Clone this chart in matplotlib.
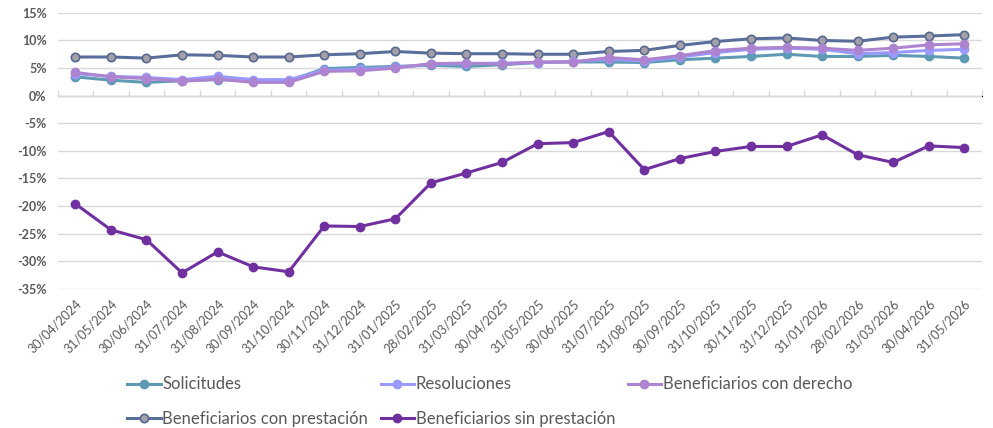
import numpy as np
import matplotlib
matplotlib.use("Agg")
import matplotlib.pyplot as plt
from matplotlib.ticker import FuncFormatter

# Fechas (fin de mes) y variaciones interanuales en %
fechas = ["30/04/2024", "31/05/2024", "30/06/2024", "31/07/2024", "31/08/2024", "30/09/2024",
          "31/10/2024", "30/11/2024", "31/12/2024", "31/01/2025", "28/02/2025", "31/03/2025",
          "30/04/2025", "31/05/2025", "30/06/2025", "31/07/2025", "31/08/2025", "30/09/2025",
          "31/10/2025", "30/11/2025", "31/12/2025", "31/01/2026", "28/02/2026", "31/03/2026",
          "30/04/2026", "31/05/2026"]

solicitudes = [3.4, 2.8, 2.4, 2.7, 2.9, 2.7, 2.7, 4.9, 5.1, 5.3, 5.5, 5.3,
               5.6, 6.0, 6.1, 6.1, 6.0, 6.5, 6.8, 7.1, 7.5, 7.1, 7.1, 7.3, 7.1, 6.8]
resoluciones = [4.0, 3.5, 3.3, 2.9, 3.5, 2.9, 2.9, 4.6, 4.8, 5.1, 5.7, 5.8,
                5.9, 6.0, 6.2, 6.6, 6.3, 7.0, 7.8, 8.4, 8.6, 8.4, 7.6, 7.8, 8.2, 8.4]
con_derecho = [4.2, 3.4, 3.1, 2.6, 3.0, 2.4, 2.4, 4.4, 4.5, 5.0, 5.8, 5.9,
               5.7, 6.1, 6.1, 6.9, 6.5, 7.25, 8.15, 8.6, 8.75, 8.6, 8.2, 8.6, 9.2, 9.4]
con_prestacion = [7.0, 7.0, 6.8, 7.4, 7.3, 7.0, 7.0, 7.4, 7.6, 8.0, 7.7, 7.6,
                  7.6, 7.5, 7.5, 8.0, 8.2, 9.1, 9.8, 10.3, 10.45, 10.0, 9.85, 10.6, 10.8, 11.05]
sin_prestacion = [-19.6, -24.3, -26.1, -32.1, -28.3, -31.0, -31.9, -23.6, -23.7, -22.3, -15.8, -14.0,
                  -12.1, -8.7, -8.5, -6.5, -13.4, -11.4, -10.1, -9.2, -9.2, -7.1, -10.7, -12.1, -9.1, -9.4]

plt.rcParams["font.family"] = ["Lato", "DejaVu Sans"]
gris = "#595959"

fig = plt.figure(figsize=(9.93, 4.28), dpi=100)
ax = fig.add_axes([0.058, 0.325, 0.931, 0.645])
x = np.arange(len(fechas))

lw, ms = 2.2, 6
l_sin, = ax.plot(x, sin_prestacion, color="#7030a0", lw=lw, marker="o", ms=ms, label="Beneficiarios sin prestación", zorder=3)
l_con, = ax.plot(x, con_prestacion, color="#5a6e9c", lw=lw, marker="o", ms=ms, mfc="#a5a0a8", mec="#56698f",
                 mew=1.2, label="Beneficiarios con prestación", zorder=3)
l_sol, = ax.plot(x, solicitudes, color="#5f9ab4", lw=lw, marker="o", ms=ms, label="Solicitudes", zorder=4)
l_res, = ax.plot(x, resoluciones, color="#9999ff", lw=lw, marker="o", ms=ms, label="Resoluciones", zorder=5)
l_der, = ax.plot(x, con_derecho, color="#ad84cf", lw=lw, marker="o", ms=ms, label="Beneficiarios con derecho", zorder=6)

ax.set_ylim(-35, 15)
ax.set_xlim(-0.5, len(fechas) - 0.5)
ax.set_yticks(np.arange(-35, 16, 5))
ax.yaxis.set_major_formatter(FuncFormatter(lambda v, p: f"{v:.0f}%"))
ax.grid(axis="y", color="#d9d9d9", lw=1)
ax.set_axisbelow(True)
for s in ax.spines.values():
    s.set_visible(False)
ax.tick_params(axis="y", length=0, labelsize=9, labelcolor=gris, pad=8)
for t in ax.get_yticklabels():
    t.set_fontweight("bold")

ax.set_xticks(x)
ax.set_xticklabels(fechas, rotation=45, ha="right", rotation_mode="anchor", fontsize=9, color=gris)
ax.tick_params(axis="x", length=0, pad=6)

# eje de categorías en 0% con marcas entre meses
sec = ax.secondary_xaxis(0.7)
sec.set_xticks(np.arange(-0.5, len(fechas), 1))
sec.set_xticklabels([])
sec.tick_params(axis="x", length=4, color="#d9d9d9", width=1)
sec.spines["bottom"].set_color("#d9d9d9")
sec.spines["bottom"].set_linewidth(1.2)

handles = [l_sol, l_con, l_res, l_sin, l_der]
fig.legend(handles=handles, labels=[h.get_label() for h in handles], ncol=3, loc="lower left",
           bbox_to_anchor=(0.113, -0.032), frameon=False, fontsize=12, labelcolor=gris,
           handlelength=2.0, handletextpad=0.1, columnspacing=0.75, labelspacing=1.1)

fig.savefig("out.png", dpi=100)
